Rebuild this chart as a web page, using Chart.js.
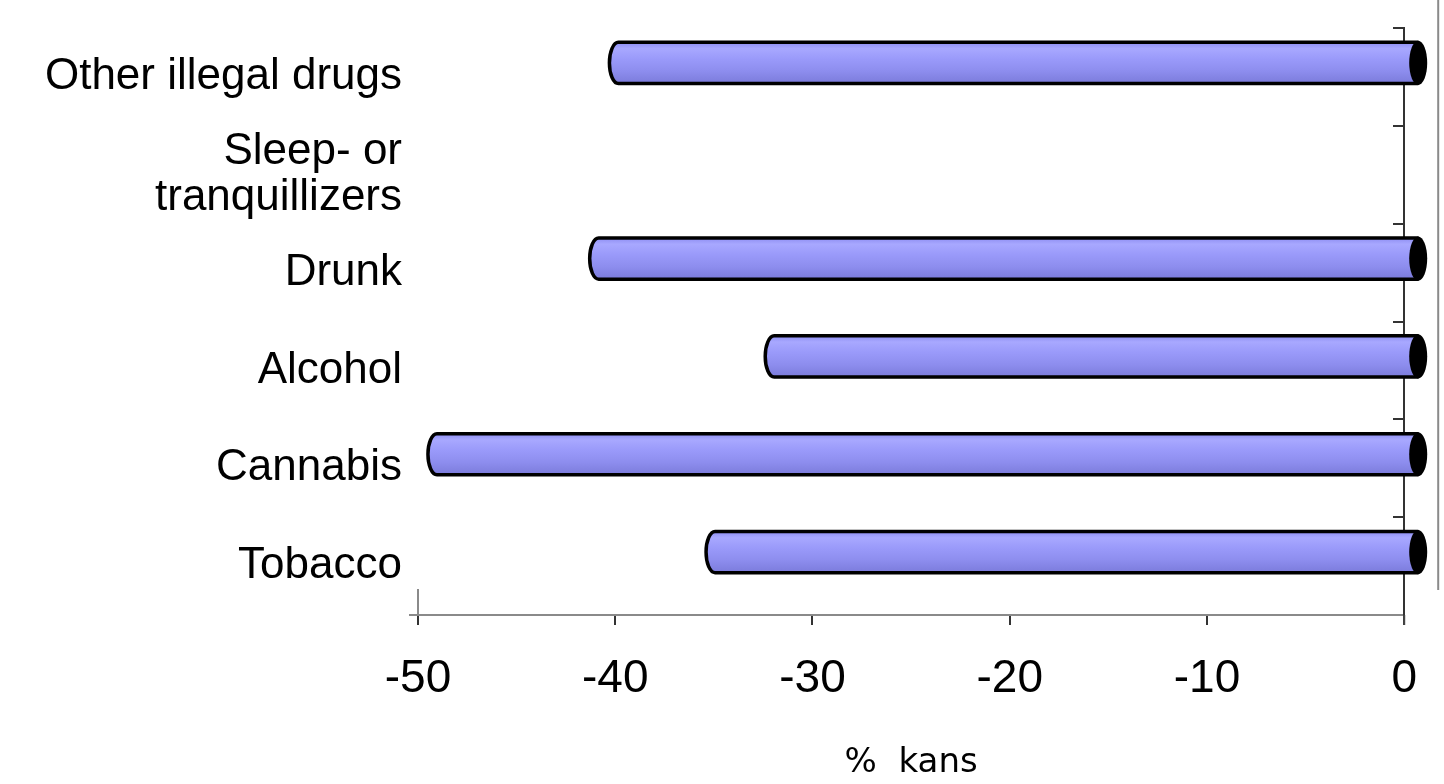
<!DOCTYPE html>
<html>
<head>
<meta charset="utf-8">
<script src="https://cdn.jsdelivr.net/npm/chart.js@4/dist/chart.umd.min.js"></script>
<style>
  html, body { margin: 0; padding: 0; background: #fff; }
  canvas { display: block; }
</style>
</head>
<body>
<canvas id="myChart" width="1444" height="784"></canvas>
<script>
// data
const categories = ["Other illegal drugs", ["Sleep- or", "tranquillizers"], "Drunk", "Alcohol", "Cannabis", "Tobacco"];
const changeValues = [-40.6, null, -41.6, -32.7, -49.8, -35.7];
const xMin = -50;
const xMax = 0;
const xStep = 10;
const axisTitle = "%  kans";

// 3d cylinder look: the bars are pushed up/right a bit like the old excel chart
const DX = 15;
const DY = -14;

const cylinderPlugin = {
  id: "cylinders",
  afterDatasetsDraw(chart) {
    const ctx = chart.ctx;
    const meta = chart.getDatasetMeta(0);
    meta.data.forEach((bar, i) => {
      if (changeValues[i] == null) return;
      const p = bar.getProps(["x", "y", "base", "height"], true);
      const left = Math.min(p.x, p.base) + DX;
      const right = Math.max(p.x, p.base) + DX;
      const cy = p.y + DY;
      const ry = p.height / 2;
      const rx = 9;
      const top = cy - ry;
      const bottom = cy + ry;

      const grad = ctx.createLinearGradient(0, top, 0, bottom);
      grad.addColorStop(0, "#8e8ef2");
      grad.addColorStop(0.15, "#a8a8ff");
      grad.addColorStop(0.4, "#9a9afa");
      grad.addColorStop(0.7, "#8d8dee");
      grad.addColorStop(1, "#7b7bdb");

      ctx.save();
      ctx.beginPath();
      ctx.moveTo(right, top);
      ctx.lineTo(left, top);
      ctx.ellipse(left, cy, rx, ry, 0, -Math.PI / 2, Math.PI / 2, true);
      ctx.lineTo(right, bottom);
      ctx.closePath();
      ctx.fillStyle = grad;
      ctx.fill();
      ctx.lineWidth = 3.5;
      ctx.strokeStyle = "#000";
      ctx.lineJoin = "bevel";
      ctx.stroke();

      ctx.beginPath();
      ctx.ellipse(right, cy, rx, ry + 1.5, 0, 0, Math.PI * 2);
      ctx.fillStyle = "#000";
      ctx.fill();
      ctx.restore();
    });
  },
  afterDraw(chart) {
    // frame bits of the 3d box
    const ctx = chart.ctx;
    const a = chart.chartArea;
    const x0 = chart.scales.x.getPixelForValue(xMax);
    const xL = chart.scales.x.getPixelForValue(xMin);
    ctx.save();
    ctx.lineWidth = 2;
    ctx.strokeStyle = "#8a8a8a";
    ctx.beginPath();
    ctx.moveTo(x0 + 34, a.top - 28);
    ctx.lineTo(x0 + 34, a.bottom - 25);
    ctx.moveTo(xL, a.bottom - 26);
    ctx.lineTo(xL, a.bottom);
    ctx.moveTo(xL - 9, a.bottom);
    ctx.lineTo(xL, a.bottom);
    ctx.stroke();
    ctx.strokeStyle = "#444";
    ctx.beginPath();
    ctx.moveTo(x0, a.bottom);
    ctx.lineTo(x0, a.bottom + 10);
    ctx.stroke();
    ctx.restore();
  }
};

new Chart("myChart", {
  type: "bar",
  data: {
    labels: categories,
    datasets: [
      {
        data: changeValues,
        backgroundColor: "rgba(0,0,0,0)",
        borderWidth: 0,
        barPercentage: 0.42,
        categoryPercentage: 1
      }
    ]
  },
  options: {
    indexAxis: "y",
    responsive: false,
    animation: false,
    layout: { padding: { top: 28, right: 36, bottom: 0, left: 0 } },
    plugins: {
      legend: { display: false },
      tooltip: { enabled: false }
    },
    scales: {
      x: {
        type: "linear",
        position: "bottom",
        min: xMin,
        max: xMax,
        afterFit(scale) { scale.height = 169; },
        ticks: {
          stepSize: xStep,
          color: "#000",
          padding: 27,
          font: { family: "'Liberation Sans', Arial, sans-serif", size: 46 }
        },
        grid: {
          drawOnChartArea: false,
          drawTicks: true,
          tickLength: 10,
          color: "#333",
          lineWidth: 2
        },
        border: { display: true, color: "#8a8a8a", width: 2 },
        title: {
          display: true,
          text: axisTitle,
          color: "#000",
          padding: { top: 0, bottom: 0 },
          font: { family: "'DejaVu Sans', Verdana, sans-serif", size: 34 }
        }
      },
      y: {
        type: "category",
        position: "left",
        offset: true,
        afterFit(scale) {
          scale.width = 418;
          scale.paddingTop = 0;
          scale.paddingBottom = 0;
        },
        grid: { display: false },
        border: { display: false },
        ticks: {
          color: "#000",
          padding: 8,
          font: { family: "'Liberation Sans', Arial, sans-serif", size: 44, lineHeight: 1.05 }
        }
      },
      y2: {
        type: "category",
        axis: "y",
        position: { x: 0 },
        offset: true,
        z: 1,
        ticks: { display: false },
        grid: {
          drawOnChartArea: false,
          drawTicks: true,
          tickLength: 10,
          color: "#333",
          lineWidth: 2
        },
        border: { display: true, color: "#333", width: 2 }
      }
    }
  },
  plugins: [cylinderPlugin]
});
</script>
</body>
</html>
